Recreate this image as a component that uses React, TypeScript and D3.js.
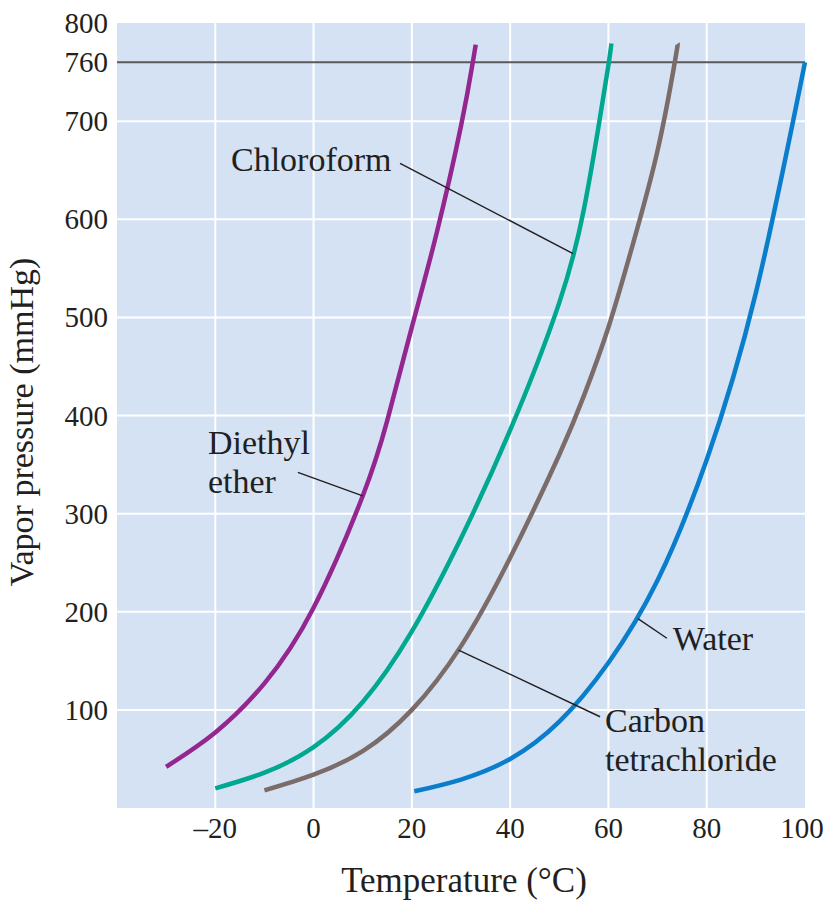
import { useEffect, useRef } from "react";
import * as d3 from "d3";

// vapor pressure curves, [temperature °C, pressure mmHg]
const etherPts = [
  [-30, 42], [-20, 77], [-10, 127], [0, 204], [10, 318], [15, 395],
  [20, 490], [25, 585], [30, 695], [32.4, 760], [33, 778],
];
const chloroformPts = [
  [-20, 20], [-10, 36], [0, 62], [10, 108], [20, 180], [30, 275],
  [40, 385], [50, 515], [55, 610], [58, 695], [60, 757], [60.6, 779],
];
const ccl4Pts = [
  [-10, 18], [0, 34], [10, 58], [20, 100], [30, 165], [40, 255],
  [50, 360], [55, 420], [60, 490], [65, 575], [70, 670], [73.5, 760], [74.1, 779],
];
const waterPts = [
  [20.5, 17], [30, 29], [40, 50], [50, 88], [60, 148], [70, 232],
  [80, 355], [90, 525], [100, 760],
];

const SERIES = [
  { key: "ether", pts: etherPts, color: "#93278f" },
  { key: "chloroform", pts: chloroformPts, color: "#00a88f" },
  { key: "ccl4", pts: ccl4Pts, color: "#7b6c6a" },
  { key: "water", pts: waterPts, color: "#0a7dcb" },
];

const xTicks = [-20, 0, 20, 40, 60, 80, 100];
const xGrid = [-20, 0, 20, 40, 60, 80];
const yTicks = [100, 200, 300, 400, 500, 600, 700, 760, 800];
const yGrid = [100, 200, 300, 400, 500, 600, 700];
const ATM = 760;

// labels: text lines anchored at [T, P], leader from [T, P] to a point on the curve
const LABELS = [
  { lines: ["Chloroform"], at: [-16.8, 649], from: [17.6, 657], to: [52.8, 565] },
  { lines: ["Diethyl", "ether"], at: [-21.5, 361], from: [-3.2, 342], to: [10, 318] },
  { lines: ["Water"], at: [73.1, 161], from: [71.9, 173], to: [66, 193] },
  { lines: ["Carbon", "tetrachloride"], at: [59.3, 77], from: [58.3, 93], to: [29.5, 161] },
];

export default function App() {
  const ref = useRef<SVGSVGElement>(null);

  useEffect(() => {
    const svg = d3.select(ref.current);
    svg.selectAll("*").remove();

    const W = 825;
    const font = "'Liberation Serif', 'Times New Roman', serif";
    const ink = "#231f20";
    const plot = { left: 117, right: 805, top: 23, bottom: 808 };

    const x = d3.scaleLinear().domain([-40, 100]).range([plot.left, plot.right]);
    const y = d3.scaleLinear().domain([0, 800]).range([plot.bottom, plot.top]);

    svg
      .append("rect")
      .attr("x", plot.left)
      .attr("y", plot.top)
      .attr("width", plot.right - plot.left)
      .attr("height", plot.bottom - plot.top)
      .attr("fill", "#d4e2f4");

    svg
      .append("g")
      .selectAll("line")
      .data(xGrid)
      .join("line")
      .attr("x1", (d) => x(d))
      .attr("x2", (d) => x(d))
      .attr("y1", plot.top)
      .attr("y2", plot.bottom)
      .attr("stroke", "#fff")
      .attr("stroke-width", 2);

    svg
      .append("g")
      .selectAll("line")
      .data(yGrid)
      .join("line")
      .attr("x1", plot.left)
      .attr("x2", plot.right)
      .attr("y1", (d) => y(d))
      .attr("y2", (d) => y(d))
      .attr("stroke", "#fff")
      .attr("stroke-width", 2);

    svg
      .append("line")
      .attr("x1", plot.left)
      .attr("x2", plot.right)
      .attr("y1", y(ATM))
      .attr("y2", y(ATM))
      .attr("stroke", "#5a5a5a")
      .attr("stroke-width", 2);

    const line = d3
      .line<number[]>()
      .x((d) => x(d[0]))
      .y((d) => y(d[1]))
      .curve(d3.curveNatural);

    SERIES.forEach((s) => {
      svg
        .append("path")
        .datum(s.pts)
        .attr("fill", "none")
        .attr("stroke", s.color)
        .attr("stroke-width", 4.5)
        .attr("d", line);
    });

    // tick labels (last one kept inside the page edge)
    svg
      .append("g")
      .selectAll("text")
      .data(xTicks)
      .join("text")
      .attr("x", (d) => Math.min(x(d), W - 23))
      .attr("y", 838)
      .attr("text-anchor", "middle")
      .attr("font-family", font)
      .attr("font-size", 29)
      .attr("fill", ink)
      .text((d) => (d < 0 ? "\u2013" + Math.abs(d) : String(d)));

    svg
      .append("g")
      .selectAll("text")
      .data(yTicks)
      .join("text")
      .attr("x", 108)
      .attr("y", (d) => y(d) + 10)
      .attr("text-anchor", "end")
      .attr("font-family", font)
      .attr("font-size", 29)
      .attr("fill", ink)
      .text((d) => d);

    svg
      .append("text")
      .attr("x", 464)
      .attr("y", 892)
      .attr("text-anchor", "middle")
      .attr("font-family", font)
      .attr("font-size", 35)
      .attr("fill", ink)
      .text("Temperature (\u00b0C)");

    svg
      .append("text")
      .attr("transform", "translate(33,422) rotate(-90)")
      .attr("text-anchor", "middle")
      .attr("font-family", font)
      .attr("font-size", 34)
      .attr("fill", ink)
      .text("Vapor pressure (mmHg)");

    // curve labels with leader lines
    LABELS.forEach((l) => {
      svg
        .append("line")
        .attr("x1", x(l.from[0]))
        .attr("y1", y(l.from[1]))
        .attr("x2", x(l.to[0]))
        .attr("y2", y(l.to[1]))
        .attr("stroke", "#231f20")
        .attr("stroke-width", 1.4);
      l.lines.forEach((t, i) => {
        svg
          .append("text")
          .attr("x", x(l.at[0]))
          .attr("y", y(l.at[1]) + i * 39)
          .attr("font-family", font)
          .attr("font-size", 34)
          .attr("fill", ink)
          .text(t);
      });
    });
  }, []);

  return (
    <svg
      ref={ref}
      width={825}
      height={904}
      style={{ position: "absolute", left: 0, top: 0, background: "#fff" }}
    />
  );
}
